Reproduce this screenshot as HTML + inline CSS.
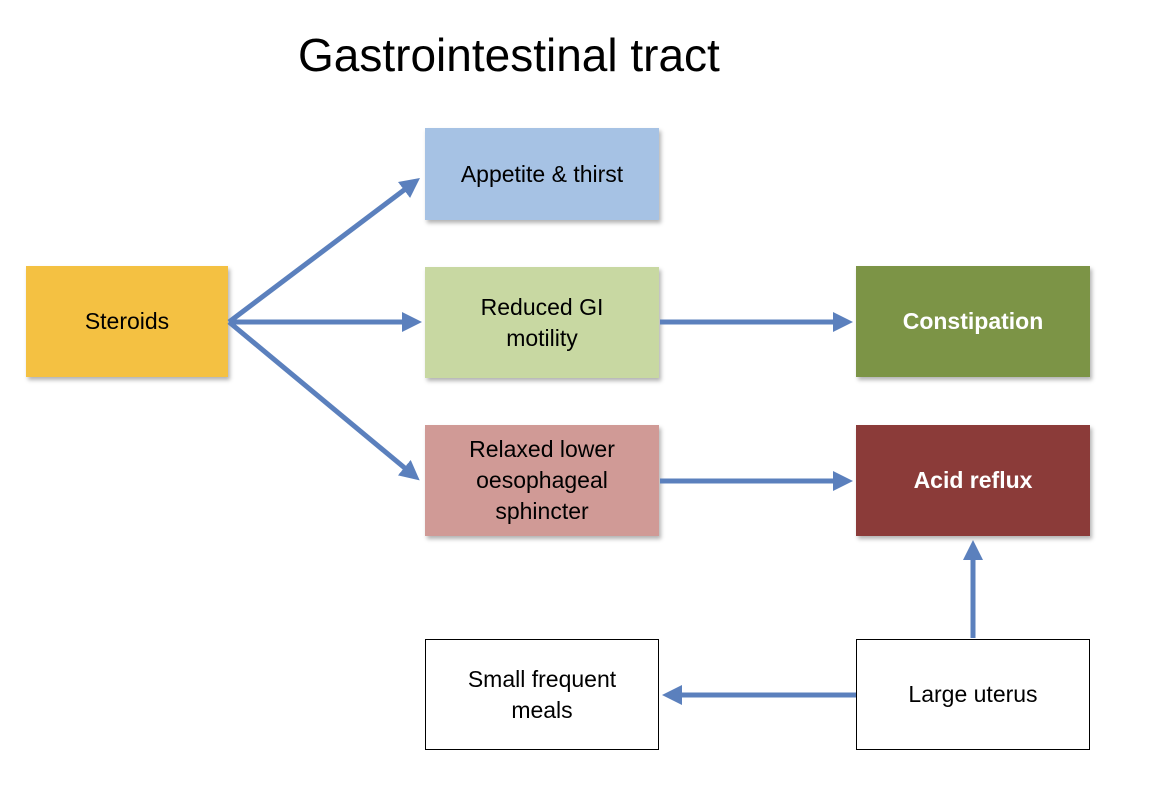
<!DOCTYPE html>
<html><head><style>
body{margin:0;width:1172px;height:790px;background:#fff;position:relative;font-family:"Liberation Sans",sans-serif;overflow:hidden}
.b{position:absolute;display:flex;align-items:center;justify-content:center;text-align:center;font-size:23px;line-height:31px;color:#000;box-shadow:2px 3px 4px rgba(0,0,0,0.3);box-sizing:border-box}
h1{position:absolute;left:298px;top:28px;margin:0;font-weight:normal;font-size:46px}
</style></head><body>
<h1>Gastrointestinal tract</h1>
<div class="b" style="left:26px;top:266px;width:202px;height:111px;background:#f4c142">Steroids</div>
<div class="b" style="left:425px;top:128px;width:234px;height:92px;background:#a6c2e4">Appetite &amp; thirst</div>
<div class="b" style="left:425px;top:267px;width:234px;height:111px;background:#c8d8a2">Reduced GI<br>motility</div>
<div class="b" style="left:425px;top:425px;width:234px;height:111px;background:#d09a96">Relaxed lower<br>oesophageal<br>sphincter</div>
<div class="b" style="left:856px;top:266px;width:234px;height:111px;background:#7c9446;color:#fff;font-weight:bold">Constipation</div>
<div class="b" style="left:856px;top:425px;width:234px;height:111px;background:#8b3b39;color:#fff;font-weight:bold">Acid reflux</div>
<div class="b" style="left:425px;top:639px;width:234px;height:111px;background:#fff;border:1px solid #000;box-shadow:none">Small frequent<br>meals</div>
<div class="b" style="left:856px;top:639px;width:234px;height:111px;background:#fff;border:1px solid #000;box-shadow:none">Large uterus</div>
<svg width="1172" height="790" style="position:absolute;left:0;top:0">
<defs><marker id="a" markerWidth="4" markerHeight="4" refX="2" refY="2" orient="auto"><path d="M0,0L4,2L0,4z" fill="#5b80bd"/></marker></defs>
<g stroke="#5b80bd" stroke-width="5" fill="none" marker-end="url(#a)">
<line x1="229" y1="322" x2="412" y2="184"/>
<line x1="229" y1="322" x2="412" y2="322"/>
<line x1="229" y1="322" x2="412" y2="474"/>
<line x1="660" y1="322" x2="843" y2="322"/>
<line x1="660" y1="481" x2="843" y2="481"/>
<line x1="973" y1="638" x2="973" y2="550"/>
<line x1="856" y1="695" x2="672" y2="695"/>
</g></svg>
</body></html>
